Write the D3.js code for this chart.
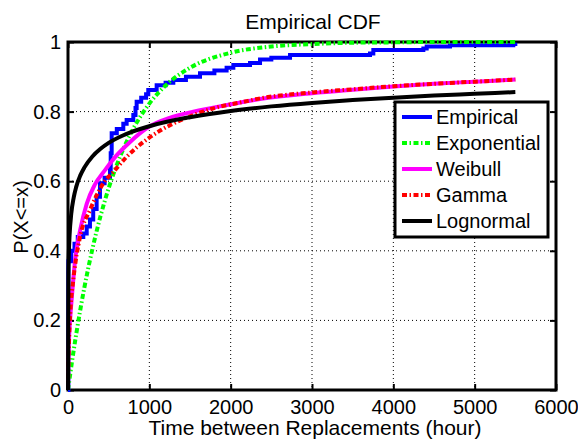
<!DOCTYPE html>
<html>
<head>
<meta charset="utf-8">
<script src="https://cdn.jsdelivr.net/npm/d3@7"></script>
<style>
  html, body { margin: 0; padding: 0; background: #fff; }
  svg text { font-family: "Liberation Sans", Arial, sans-serif; fill: #000; }
</style>
</head>
<body>
<svg id="chart" width="578" height="441"></svg>
<script>
// ---------------- data ----------------
const title = "Empirical CDF";
const xLabel = "Time between Replacements (hour)";
const yLabel = "P(X<=x)";
const xTicks = [0, 1000, 2000, 3000, 4000, 5000, 6000];
const yTicks = [0, 0.2, 0.4, 0.6, 0.8, 1];
const seriesNames = ["Empirical", "Exponential", "Weibull", "Gamma", "Lognormal"];

// Empirical CDF (step positions)
const empX = [0, 5, 40, 80, 120, 188, 230, 270, 310, 352, 393, 450, 516, 525, 537, 600, 680, 721, 803, 830, 844, 900, 960, 987, 1090, 1200, 1295, 1450, 1623, 1800, 1950, 2033, 2238, 2361, 2500, 2730, 3713, 3754, 4369, 4410, 4697, 5475, 5500];
const empP = [0, 0.37, 0.40, 0.42, 0.44, 0.45, 0.47, 0.49, 0.52, 0.555, 0.594, 0.61, 0.632, 0.68, 0.738, 0.75, 0.765, 0.776, 0.79, 0.81, 0.828, 0.84, 0.85, 0.862, 0.876, 0.883, 0.891, 0.90, 0.91, 0.918, 0.926, 0.934, 0.94, 0.95, 0.955, 0.963, 0.967, 0.977, 0.981, 0.987, 0.991, 0.994, 0.998];

// Exponential fit
const expX = [0, 25, 50, 100, 150, 200, 300, 400, 500, 600, 700, 800, 1000, 1200, 1500, 2000, 2500, 3000, 3500, 4000, 4500, 5000, 5500];
const expP = [0, 0.042, 0.083, 0.159, 0.229, 0.293, 0.405, 0.500, 0.580, 0.647, 0.703, 0.750, 0.823, 0.875, 0.926, 0.969, 0.987, 0.994, 0.998, 0.999, 1.0, 1.0, 1.0];

// Weibull fit
const weiX = [0, 3, 10, 25, 45, 86, 150, 230, 330, 455, 600, 750, 1000, 1250, 1541, 2000, 2361, 3000, 3500, 4000, 4500, 5000, 5500];
const weiP = [0, 0.06, 0.13, 0.20, 0.26, 0.37, 0.46, 0.535, 0.59, 0.632, 0.675, 0.71, 0.757, 0.782, 0.80, 0.821, 0.836, 0.853, 0.863, 0.872, 0.88, 0.886, 0.892];

// Gamma fit
const gamX = [0, 3, 10, 30, 65, 148, 270, 434, 578, 721, 987, 1254, 1541, 1828, 2115, 2361, 3000, 3500, 4000, 4500, 5000, 5500];
const gamP = [0, 0.05, 0.12, 0.23, 0.316, 0.44, 0.517, 0.594, 0.632, 0.67, 0.723, 0.761, 0.79, 0.812, 0.826, 0.838, 0.855, 0.864, 0.873, 0.88, 0.886, 0.892];

// Lognormal fit
const logX = [0, 5, 10, 20, 40, 70, 100, 150, 200, 300, 400, 500, 700, 1000, 1500, 2000, 2500, 3000, 3500, 4000, 4500, 5000, 5500];
const logP = [0, 0.334, 0.39, 0.447, 0.506, 0.553, 0.583, 0.616, 0.639, 0.671, 0.693, 0.71, 0.734, 0.758, 0.784, 0.802, 0.815, 0.825, 0.833, 0.84, 0.846, 0.851, 0.856];

// ---------------- drawing ----------------
const svg = d3.select("#chart");
const L = 68, R = 556, T = 42, B = 390;
const x = d3.scaleLinear().domain([0, 6000]).range([L, R]);
const y = d3.scaleLinear().domain([0, 1]).range([B, T]);

const zip = (xs, ps) => xs.map((v, i) => [v, ps[i]]);

const series = [
  { name: seriesNames[0], data: zip(empX, empP), color: "#0000ff", dash: null, curve: d3.curveStepAfter },
  { name: seriesNames[1], data: zip(expX, expP), color: "#00ff00", dash: "5,2.5,1.5,2.5", curve: d3.curveMonotoneX },
  { name: seriesNames[2], data: zip(weiX, weiP), color: "#ff00ff", dash: null, curve: d3.curveMonotoneX },
  { name: seriesNames[3], data: zip(gamX, gamP), color: "#ff0000", dash: "5,2.5,1.5,2.5", curve: d3.curveMonotoneX },
  { name: seriesNames[4], data: zip(logX, logP), color: "#000000", dash: null, curve: d3.curveMonotoneX }
];

// grid
const grid = svg.append("g");
grid.selectAll("line.gx").data(xTicks.slice(1, -1)).enter().append("line")
  .attr("x1", d => x(d)).attr("x2", d => x(d)).attr("y1", T).attr("y2", B)
  .attr("stroke", "#000").attr("stroke-width", 1).attr("stroke-dasharray", "1,3");
grid.selectAll("line.gy").data(yTicks.slice(1, -1)).enter().append("line")
  .attr("y1", d => y(d)).attr("y2", d => y(d)).attr("x1", L).attr("x2", R)
  .attr("stroke", "#000").attr("stroke-width", 1).attr("stroke-dasharray", "1,3");

// axes (ticks pointing inward)
const fmtY = d => (d === 0 || d === 1) ? String(d) : d.toFixed(1);
const axB = svg.append("g").attr("transform", `translate(0,${B})`)
  .call(d3.axisBottom(x).tickValues(xTicks).tickSizeInner(-6).tickSizeOuter(0).tickPadding(10).tickFormat(d3.format("d")));
const axT = svg.append("g").attr("transform", `translate(0,${T})`)
  .call(d3.axisTop(x).tickValues(xTicks).tickSizeInner(-6).tickSizeOuter(0).tickFormat(""));
const axL = svg.append("g").attr("transform", `translate(${L},0)`)
  .call(d3.axisLeft(y).tickValues(yTicks).tickSizeInner(-6).tickSizeOuter(0).tickPadding(7).tickFormat(fmtY));
const axR = svg.append("g").attr("transform", `translate(${R},0)`)
  .call(d3.axisRight(y).tickValues(yTicks).tickSizeInner(-6).tickSizeOuter(0).tickFormat(""));
[axB, axT, axL, axR].forEach(a => {
  a.select(".domain").remove();
  a.selectAll(".tick line").attr("stroke", "#000").attr("stroke-width", 2);
  a.selectAll(".tick text").attr("font-size", 20).attr("font-family", "Liberation Sans, Arial, sans-serif");
});

// box
svg.append("rect").attr("x", L).attr("y", T).attr("width", R - L).attr("height", B - T)
  .attr("fill", "none").attr("stroke", "#000").attr("stroke-width", 3);

// curves
series.forEach(s => {
  const line = d3.line().x(d => x(d[0])).y(d => y(d[1])).curve(s.curve);
  svg.append("path").datum(s.data).attr("d", line)
    .attr("fill", "none").attr("stroke", s.color).attr("stroke-width", 4)
    .attr("stroke-dasharray", s.dash).attr("stroke-linejoin", "miter");
});

// title and labels
svg.append("text").attr("x", (L + R) / 2 + 1).attr("y", 29).attr("text-anchor", "middle")
  .attr("font-size", 21).text(title);
svg.append("text").attr("x", (L + R) / 2 + 3).attr("y", 435).attr("text-anchor", "middle")
  .attr("font-size", 21).text(xLabel);
svg.append("text").attr("transform", `translate(28,${(T + B) / 2 + 1}) rotate(-90)`)
  .attr("text-anchor", "middle").attr("font-size", 20).text(yLabel);

// legend
const lg = svg.append("g");
lg.append("rect").attr("x", 395).attr("y", 102).attr("width", 153).attr("height", 135)
  .attr("fill", "#fff").attr("stroke", "#000").attr("stroke-width", 3);
series.forEach((s, i) => {
  const cy = 117 + i * 26;
  lg.append("line").attr("x1", 402).attr("x2", 432).attr("y1", cy).attr("y2", cy)
    .attr("stroke", s.color).attr("stroke-width", 4).attr("stroke-dasharray", s.dash);
  lg.append("text").attr("x", 436).attr("y", cy + 7).attr("font-size", 20).text(s.name);
});
</script>
</body>
</html>
